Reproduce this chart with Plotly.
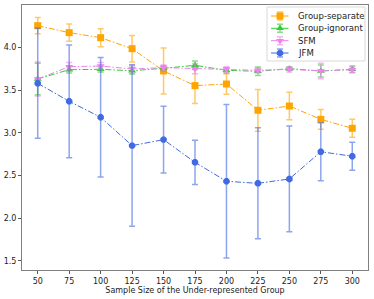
import plotly.graph_objects as go

sizes = [50, 75, 100, 125, 150, 175, 200, 225, 250, 275, 300]

sep_mean = [4.258, 4.176, 4.117, 3.988, 3.727, 3.555, 3.574, 3.266, 3.316, 3.160, 3.055]
sep_err = [0.095, 0.100, 0.105, 0.155, 0.270, 0.210, 0.120, 0.245, 0.160, 0.115, 0.105]

ign_mean = [3.633, 3.742, 3.746, 3.730, 3.758, 3.793, 3.734, 3.723, 3.754, 3.727, 3.746]
ign_err = [0.185, 0.040, 0.030, 0.040, 0.030, 0.050, 0.030, 0.050, 0.020, 0.070, 0.040]

sfm_mean = [3.633, 3.777, 3.785, 3.750, 3.766, 3.754, 3.746, 3.734, 3.746, 3.727, 3.742]
sfm_err = [0.200, 0.050, 0.040, 0.050, 0.030, 0.060, 0.030, 0.030, 0.030, 0.090, 0.030]

jfm_mean = [3.582, 3.371, 3.184, 2.852, 2.922, 2.656, 2.434, 2.410, 2.461, 2.780, 2.727]
jfm_err = [0.645, 0.660, 0.700, 0.945, 0.390, 0.260, 0.900, 0.650, 0.620, 0.340, 0.165]

y_ticks = [1.5, 2.0, 2.5, 3.0, 3.5, 4.0]
x_title = "Sample Size of the Under-represented Group"

series = [
    ("Group-separate", sep_mean, sep_err, "#FFA500", "rgba(255,165,0,0.6)", "square"),
    ("Group-ignorant", ign_mean, ign_err, "#32CD32", "rgba(50,205,50,0.6)", "triangle-up"),
    ("SFM", sfm_mean, sfm_err, "#EE82EE", "rgba(238,130,238,0.6)", "triangle-down"),
    ("JFM", jfm_mean, jfm_err, "#4169E1", "rgba(65,105,225,0.6)", "octagon"),
]

DASH = "6px,2px,1.5px,2px"
FONT = "DejaVu Sans"

fig = go.Figure()
for name, m, e, col, ecol, sym in series:
    fig.add_trace(go.Scatter(
        x=sizes, y=m, name=name, mode="lines+markers", showlegend=False,
        line=dict(color=col, width=1, dash=DASH),
        marker=dict(symbol=sym, size=7, color=col),
        error_y=dict(type="data", array=e, visible=True, color=ecol, thickness=1.5, width=3),
    ))

# Custom legend drawn in an overlay axis measured in pixels of the plot area
L, R, T, B = 22, 368, 5, 270
leg_rows = [16, 28.3, 40.7, 53]
for (name, m, e, col, ecol, sym), ry in zip(series, leg_rows):
    fig.add_trace(go.Scatter(
        x=[271, 289], y=[ry, ry], mode="lines", showlegend=False, hoverinfo="skip",
        line=dict(color=col, width=1, dash=DASH), xaxis="x2", yaxis="y2",
    ))
    fig.add_trace(go.Scatter(
        x=[280], y=[ry], mode="markers", showlegend=False, hoverinfo="skip",
        marker=dict(symbol=sym, size=7, color=col), xaxis="x2", yaxis="y2",
        error_y=dict(type="constant", value=4, visible=True, color=ecol, thickness=1.5, width=3),
    ))
    fig.add_annotation(x=296, y=ry, xref="x2", yref="y2", text=name, showarrow=False,
                       xanchor="left", yanchor="middle",
                       font=dict(family=FONT, size=8.5, color="#222222"))

fig.add_shape(type="rect", x0=267, x1=365, y0=7, y1=61, xref="x2", yref="y2",
              line=dict(color="#d9d9d9", width=1), fillcolor="rgba(255,255,255,0.8)",
              layer="below")

axis_common = dict(
    showgrid=False, zeroline=False, showline=True, mirror=True,
    linecolor="#808080", linewidth=1, ticks="outside", ticklen=3,
    tickcolor="#555555", tickfont=dict(family=FONT, size=8, color="#222222"),
)

fig.update_layout(
    width=374, height=299,
    margin=dict(l=L, r=374 - R, t=T, b=299 - B),
    paper_bgcolor="white", plot_bgcolor="white",
    font=dict(family=FONT, size=8, color="#222222"),
    xaxis=dict(range=[37.5, 312.5], tickvals=sizes, ticktext=[str(s) for s in sizes],
               title=dict(text=x_title, font=dict(family=FONT, size=8), standoff=2),
               **axis_common),
    yaxis=dict(range=[1.394, 4.5], tickvals=y_ticks,
               ticktext=[f"{v:.1f}" for v in y_ticks], **axis_common),
    xaxis2=dict(overlaying="x", anchor="y2", range=[L, R], visible=False, fixedrange=True),
    yaxis2=dict(overlaying="y", anchor="x2", range=[B, T], visible=False, fixedrange=True),
    showlegend=False,
)

fig.write_html("out.html", config={"displayModeBar": False},
               post_script="document.body.style.margin='0px';document.body.style.overflow='hidden';")
